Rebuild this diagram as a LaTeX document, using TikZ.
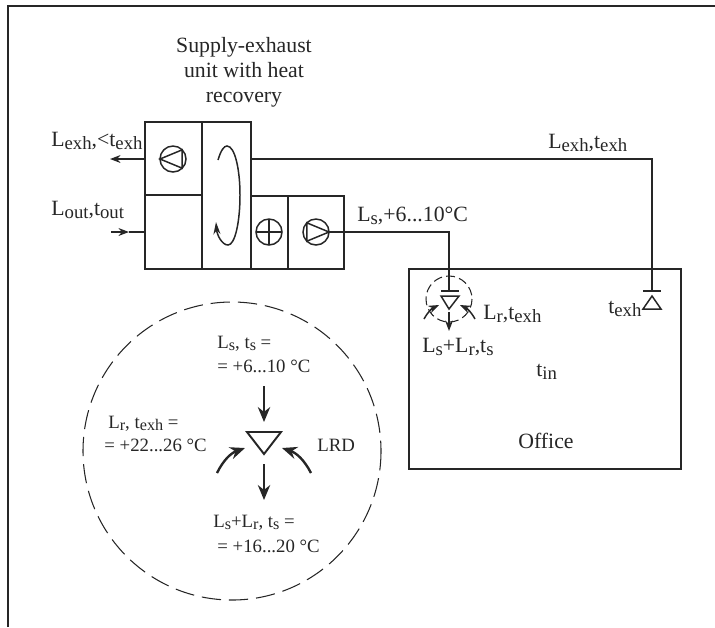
\documentclass[tikz,border=0pt]{standalone}
\usepackage{fontspec}
\setmainfont{Liberation Serif}
\usetikzlibrary{
    arrows.meta,
    calc
}
\newcommand{\lowtxt}[1]{\raisebox{-0.32ex}{\fontsize{0.86em}{1em}\selectfont #1}}
\definecolor{inkgray}{HTML}{262626}
\tikzset{
    pipe/.style={draw=inkgray, line width=0.85pt},
    thin arrow/.style={pipe, -{Stealth[length=6pt, width=4.5pt]}},
    bold arrow/.style={draw=inkgray, line width=1.35pt, -{Stealth[length=8.5pt, width=7pt]}},
    wheel/.style={circle, draw=inkgray, line width=0.85pt, minimum size=0.52cm, inner sep=0pt, outer sep=0pt},
    biglabel/.style={anchor=base west, inner sep=0pt, text=inkgray, font=\fontsize{12.4}{14.2}\selectfont},
    smalllabel/.style={anchor=base west, inner sep=0pt, text=inkgray, font=\fontsize{10.7}{12.5}\selectfont},
    ring/.style={draw=inkgray, line width=0.6pt, dash pattern=on 11pt off 4.5pt}
}
\begin{document}
\begin{tikzpicture}[x=0.02cm, y=-0.02cm]
    \useasboundingbox (0, 0) rectangle (715, 627);
    \draw[draw=inkgray, line width=1.2pt] (8, 627) -- (8, 6) -- (715, 6);

    \draw[pipe] (145, 122) rectangle (202, 195);
    \draw[pipe] (145, 195) rectangle (202, 269);
    \draw[pipe] (202, 122) rectangle (251, 269);
    \draw[pipe] (251, 196) rectangle (288, 269);
    \draw[pipe] (288, 196) rectangle (344, 269);

    \node[wheel] (fanExh) at (173, 159) {};
    \node[wheel] (heater) at (269, 232) {};
    \node[wheel] (fanSup) at (316, 232) {};
    \draw[pipe] (fanExh.180) -- (fanExh.45) -- (fanExh.-45) -- cycle;
    \draw[pipe] (fanSup.0) -- (fanSup.135) -- (fanSup.-135) -- cycle;
    \draw[pipe] (heater.north) -- (heater.south);
    \draw[pipe] (heater.west) -- (heater.east);

    \draw[pipe, -{Stealth[length=7pt, width=4pt]}] (218, 160)
        .. controls (221, 150) and (224, 146) .. (227, 146)
        .. controls (235, 146) and (240, 170) .. (240, 195)
        .. controls (240, 222) and (235, 245) .. (228, 245)
        .. controls (222, 245) and (217, 235) .. (216, 222);

    \coordinate (unitOut) at (145, 159);
    \coordinate (outEnd) at (110, 159);
    \coordinate (inStart) at (111, 232);
    \coordinate (inMid) at (129, 232);
    \coordinate (unitIn) at (145, 232);
    \draw[thin arrow] (unitOut) -- (outEnd);
    \draw[thin arrow] (inStart) -- (inMid);
    \draw[pipe] (inMid) -- (unitIn);

    \draw[pipe] (409, 269) rectangle (681, 469);

    \coordinate (wheelExh) at (251, 159);
    \coordinate (barExh) at (652, 291);
    \coordinate (barSup) at (449, 291);
    \draw[pipe] (wheelExh) -| (barExh);
    \draw[pipe] (fanSup.east) -| (barSup);
    \draw[pipe] (643, 291) -- (661, 291);
    \draw[pipe] (441, 291) -- (459, 291);
    \draw[pipe] (652, 296) -- (661, 309) -- (643, 309) -- cycle;
    \draw[pipe] (441, 296) -- (459, 296) -- (449, 309) -- cycle;

    \draw[ring, dash pattern=on 5pt off 2.5pt] (449, 299) circle (23);
    \draw[thin arrow] (449, 312) -- (449, 331);
    \draw[pipe, -{Stealth[length=6pt, width=4.5pt]}] (424, 319) to[bend left=18] (439, 305);
    \draw[pipe, -{Stealth[length=6pt, width=4.5pt]}] (475, 319) to[bend right=18] (460, 305);

    \draw[ring] (232, 451) circle (149);
    \draw[draw=inkgray, line width=1.1pt] (247, 432) -- (281, 432) -- (264, 454) -- cycle;
    \draw[bold arrow] (264, 386) -- (264, 422);
    \draw[bold arrow] (264, 464) -- (264, 500);
    \draw[bold arrow] (217, 473) to[bend left=22] (245, 448);
    \draw[bold arrow] (311, 473) to[bend right=22] (282, 448);

    \node[text=inkgray, align=center, inner sep=0pt, font=\fontsize{12.4}{14.2}\selectfont] (unitTitle) at (244, 72)
        {Supply-exhaust\\unit with heat\\recovery};
    \node[biglabel] (lblExhOut) at (51, 146) {L\lowtxt{exh},<t\lowtxt{exh}};
    \node[biglabel] (lblOut) at (51, 215) {L\lowtxt{out},t\lowtxt{out}};
    \node[biglabel] (lblSup) at (357, 221) {L\lowtxt{s},+6...10°C};
    \node[biglabel] (lblExh) at (548, 148) {L\lowtxt{exh},t\lowtxt{exh}};
    \node[biglabel] (lblTexh) at (608, 313) {t\lowtxt{exh}};
    \node[biglabel] (lblRec) at (483, 319) {L\lowtxt{r},t\lowtxt{exh}};
    \node[biglabel] (lblMix) at (422, 352) {L\lowtxt{s}+L\lowtxt{r},t\lowtxt{s}};
    \node[biglabel] (lblTin) at (536, 376) {t\lowtxt{in}};
    \node[biglabel, anchor=base] (lblOffice) at (546, 448) {Office};

    \node[smalllabel] (detSupA) at (217, 348) {L\lowtxt{s}, t\lowtxt{s} =};
    \node[smalllabel] (detSupB) at (217, 372) {= +6...10 °C};
    \node[smalllabel] (detRecA) at (108, 428) {L\lowtxt{r}, t\lowtxt{exh} =};
    \node[smalllabel] (detRecB) at (104, 451) {= +22...26 °C};
    \node[smalllabel] (detLrd) at (317, 451) {LRD};
    \node[smalllabel] (detMixA) at (213, 527) {L\lowtxt{s}+L\lowtxt{r}, t\lowtxt{s} =};
    \node[smalllabel] (detMixB) at (217, 552) {= +16...20 °C};
\end{tikzpicture}
\end{document}
